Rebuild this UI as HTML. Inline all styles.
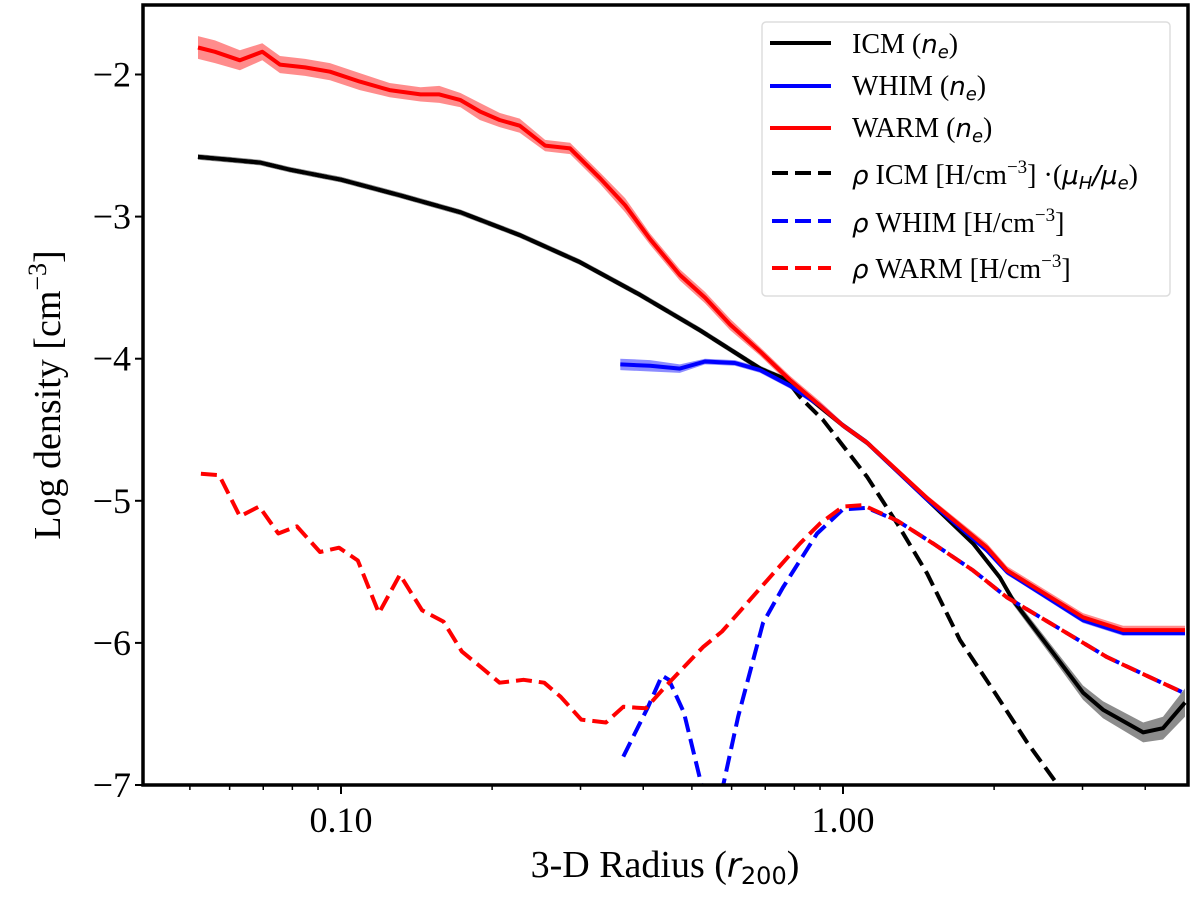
<!DOCTYPE html>
<html><head><meta charset="utf-8"><style>
html,body{margin:0;padding:0;background:#fff;}
svg text{font-family:"Liberation Serif",serif;}
</style></head><body>
<svg id="chart" width="1200" height="897" xmlns="http://www.w3.org/2000/svg">
<defs><clipPath id="clip"><rect x="143" y="5" width="1045" height="780"/></clipPath></defs>
<g id="plot" clip-path="url(#clip)"></g>
<g id="axes"></g>
</svg>
<script>
const icmR=[0.0519,0.0601,0.069,0.0791,0.1,0.131,0.173,0.227,0.299,0.394,0.519,0.684,0.773,1.0,1.116,1.470,1.815,2.054,2.181,2.620,3.006,3.296,3.963,4.34,4.80];
const icmV=[-2.58,-2.60,-2.62,-2.67,-2.74,-2.85,-2.97,-3.13,-3.32,-3.55,-3.80,-4.07,-4.15,-4.47,-4.59,-4.99,-5.30,-5.54,-5.70,-6.07,-6.35,-6.47,-6.63,-6.60,-6.42];
const icmErr=[0.02,0.02,0.02,0.02,0.02,0.02,0.02,0.02,0.02,0.02,0.02,0.02,0.02,0.02,0.02,0.02,0.02,0.02,0.03,0.04,0.05,0.06,0.07,0.08,0.1];
const icmRhoR=[0.0519,0.0601,0.069,0.0791,0.1,0.131,0.173,0.227,0.299,0.394,0.519,0.684,0.773,0.821,0.912,1.116,1.282,1.470,1.710,1.990,2.327,2.668,2.965];
const icmRhoV=[-2.58,-2.60,-2.62,-2.67,-2.74,-2.85,-2.97,-3.13,-3.32,-3.55,-3.80,-4.07,-4.15,-4.27,-4.43,-4.83,-5.16,-5.51,-5.98,-6.33,-6.70,-6.99,-7.25];
const warmR=[0.0519,0.0561,0.0629,0.0697,0.0756,0.0848,0.0951,0.109,0.125,0.144,0.157,0.173,0.189,0.207,0.227,0.255,0.286,0.328,0.368,0.413,0.473,0.531,0.596,0.684,0.784,0.900,1.0,1.116,1.470,1.936,2.122,3.006,3.614,4.80];
const warmV=[-1.81,-1.84,-1.90,-1.84,-1.93,-1.95,-1.98,-2.05,-2.11,-2.14,-2.14,-2.18,-2.26,-2.32,-2.36,-2.50,-2.52,-2.73,-2.92,-3.16,-3.41,-3.57,-3.76,-3.95,-4.15,-4.33,-4.47,-4.59,-4.98,-5.33,-5.49,-5.82,-5.91,-5.91];
const warmErr=[0.08,0.08,0.07,0.06,0.06,0.06,0.06,0.06,0.05,0.05,0.06,0.05,0.06,0.05,0.05,0.04,0.04,0.04,0.05,0.04,0.04,0.04,0.04,0.03,0.03,0.03,0.02,0.02,0.02,0.03,0.03,0.03,0.03,0.03];
const whimR=[0.360,0.413,0.473,0.531,0.609,0.684,0.784,0.900,1.0,1.116,1.470,1.936,2.122,3.006,3.614,4.80];
const whimV=[-4.04,-4.05,-4.07,-4.02,-4.03,-4.08,-4.19,-4.33,-4.47,-4.59,-4.99,-5.35,-5.50,-5.84,-5.93,-5.93];
const whimErr=[0.04,0.04,0.03,0.02,0.02,0.02,0.02,0.02,0.02,0.02,0.02,0.02,0.02,0.02,0.02,0.02];
const warmRhoR=[0.0526,0.0572,0.0629,0.0687,0.075,0.0817,0.0908,0.0991,0.108,0.119,0.131,0.145,0.160,0.174,0.190,0.207,0.231,0.254,0.274,0.301,0.337,0.365,0.405,0.442,0.482,0.526,0.574,0.626,0.706,0.821,0.900,1.0,1.096,1.282,1.511,1.815,2.122,2.584,3.357,3.908,4.76];
const warmRhoV=[-4.81,-4.82,-5.11,-5.04,-5.23,-5.18,-5.36,-5.33,-5.42,-5.79,-5.52,-5.77,-5.85,-6.06,-6.17,-6.28,-6.26,-6.28,-6.38,-6.54,-6.56,-6.45,-6.46,-6.31,-6.17,-6.03,-5.92,-5.77,-5.56,-5.30,-5.16,-5.04,-5.03,-5.14,-5.30,-5.49,-5.68,-5.86,-6.10,-6.21,-6.35];
const whimRhoR=[0.365,0.409,0.436,0.450,0.482,0.526,0.574,0.618,0.693,0.759,0.888,1.0,1.116,1.282,1.511,1.815,2.122,2.584,3.357,3.908,4.76];
const whimRhoV=[-6.80,-6.45,-6.23,-6.26,-6.49,-7.04,-7.04,-6.52,-5.86,-5.61,-5.23,-5.06,-5.05,-5.14,-5.30,-5.49,-5.68,-5.86,-6.10,-6.21,-6.35];
const yTicks=[-7,-6,-5,-4,-3,-2];
const xMajor=[0.1,1.0];
const xMajorLabels=["0.10","1.00"];
const xMinor=[0.05,0.06,0.07,0.08,0.09,0.2,0.3,0.4,0.5,0.6,0.7,0.8,0.9,2,3,4];

const L=143,R=1188,T=5,B=785;
const xs=r=>843+502*Math.log10(r);
const ys=v=>785-(v+7)*142.1;
const NS="http://www.w3.org/2000/svg";
const plot=document.getElementById('plot'),axes=document.getElementById('axes');
function mk(tag,attrs,parent){const e=document.createElementNS(NS,tag);for(const k in attrs)e.setAttribute(k,attrs[k]);parent.appendChild(e);return e;}
function lineD(rs,vs){return rs.map((r,i)=>(i?'L':'M')+xs(r).toFixed(1)+','+ys(vs[i]).toFixed(1)).join(' ');}
function bandD(rs,vs,es){let d=rs.map((r,i)=>(i?'L':'M')+xs(r).toFixed(1)+','+ys(vs[i]+es[i]).toFixed(1)).join(' ');
 for(let i=rs.length-1;i>=0;i--)d+='L'+xs(rs[i]).toFixed(1)+','+ys(vs[i]-es[i]).toFixed(1);return d+'Z';}

let b;
b=mk('path',{d:bandD(warmR,warmV,warmErr),fill:'#f00',opacity:0.45},plot);


b=mk('path',{d:bandD(whimR,whimV,whimErr),fill:'#00f',opacity:0.45},plot);


b=mk('path',{d:bandD(icmR,icmV,icmErr),fill:'#000',opacity:0.45},plot);



const series=[
 [icmRhoR,icmRhoV,'#000',true,'icm-rho-line'],
 [icmR,icmV,'#000',false,'icm-ne-line'],
 [whimR,whimV,'#00f',false,'whim-ne-line'],
 [warmR,warmV,'#f00',false,'warm-ne-line'],
 [whimRhoR,whimRhoV,'#00f',true,'whim-rho-line'],
 [warmRhoR,warmRhoV,'#f00',true,'warm-rho-line']];
series.forEach(s=>{
 const p=mk('path',{d:lineD(s[0],s[1]),fill:'none',stroke:s[2],'stroke-width':4,'stroke-linejoin':'round'},plot);
 if(s[3])p.setAttribute('stroke-dasharray','16 7');
 
 
});

yTicks.forEach(v=>{
 const y=ys(v);
 const t=mk('line',{x1:L-8,x2:L,y1:y,y2:y,stroke:'#000','stroke-width':2},axes);
 
 
 const tx=mk('text',{x:L-12,y:y+12,'text-anchor':'end','font-size':36},axes);
 tx.textContent='\u2212'+Math.abs(v);
 
 
});
xMajor.forEach((r,i)=>{
 const x=xs(r);
 const t=mk('line',{x1:x,x2:x,y1:B,y2:B+9,stroke:'#000','stroke-width':2},axes);
 
 
 const tx=mk('text',{x:x,y:B+47,'text-anchor':'middle','font-size':36},axes);
 tx.textContent=xMajorLabels[i];
 
 
});
xMinor.forEach(r=>{
 const x=xs(r);
 const t=mk('line',{x1:x,x2:x,y1:B,y2:B+5,stroke:'#000','stroke-width':1.5},axes);
 
 
});
let fr=mk('rect',{x:L,y:T,width:R-L,height:B-T,fill:'none',stroke:'#000','stroke-width':3.5},axes);


</script>
<svg style="position:absolute;left:0;top:0" width="1200" height="897" xmlns="http://www.w3.org/2000/svg">
<text x="665" y="877" text-anchor="middle" font-size="38" font-family="Liberation Serif, serif">3-D Radius (<tspan font-style="italic" font-family="DejaVu Sans, sans-serif" font-size="34">r</tspan><tspan font-family="DejaVu Sans, sans-serif" font-size="24" dy="7">200</tspan><tspan dy="-7">)</tspan></text>
<text transform="translate(60,395) rotate(-90)" text-anchor="middle" font-size="38" font-family="Liberation Serif, serif">Log density [cm<tspan font-size="26" dy="-14">−3</tspan><tspan dy="14">]</tspan></text>
<g font-family="Liberation Serif, serif" font-size="28">
<rect x="762" y="22" width="408" height="274" rx="4" fill="#fff" stroke="#ddd" stroke-width="1.5"/>
<g><line x1="770" x2="831" y1="43" y2="43" stroke="#000" stroke-width="4"/><text x="852" y="53">ICM (<tspan font-style="italic" font-family="DejaVu Sans, sans-serif" font-size="26">n</tspan><tspan font-style="italic" font-family="DejaVu Sans, sans-serif" font-size="18" dy="5">e</tspan><tspan dy="-5">)</tspan></text></g>
<g><line x1="770" x2="831" y1="86" y2="86" stroke="#00f" stroke-width="4"/><text x="852" y="95">WHIM (<tspan font-style="italic" font-family="DejaVu Sans, sans-serif" font-size="26">n</tspan><tspan font-style="italic" font-family="DejaVu Sans, sans-serif" font-size="18" dy="5">e</tspan><tspan dy="-5">)</tspan></text></g>
<g><line x1="770" x2="831" y1="128" y2="128" stroke="#f00" stroke-width="4"/><text x="852" y="137">WARM (<tspan font-style="italic" font-family="DejaVu Sans, sans-serif" font-size="26">n</tspan><tspan font-style="italic" font-family="DejaVu Sans, sans-serif" font-size="18" dy="5">e</tspan><tspan dy="-5">)</tspan></text></g>
<g><line x1="772" x2="831" y1="173" y2="173" stroke="#000" stroke-width="4" stroke-dasharray="16 7"/><text x="852" y="184"><tspan font-style="italic" font-family="DejaVu Sans, sans-serif" font-size="26">ρ</tspan> ICM [H/cm<tspan font-size="19" dy="-11">−3</tspan><tspan dy="11">] ·(</tspan><tspan font-style="italic" font-family="DejaVu Sans, sans-serif" font-size="26">μ</tspan><tspan font-style="italic" font-family="DejaVu Sans, sans-serif" font-size="18" dy="5">H</tspan><tspan dy="-5" font-family="DejaVu Sans, sans-serif" font-style="italic" font-size="26">/μ</tspan><tspan font-style="italic" font-family="DejaVu Sans, sans-serif" font-size="18" dy="5">e</tspan><tspan dy="-5">)</tspan></text></g>
<g><line x1="772" x2="831" y1="221" y2="221" stroke="#00f" stroke-width="4" stroke-dasharray="16 7"/><text x="852" y="232"><tspan font-style="italic" font-family="DejaVu Sans, sans-serif" font-size="26">ρ</tspan> WHIM [H/cm<tspan font-size="19" dy="-11">−3</tspan><tspan dy="11">]</tspan></text></g>
<g><line x1="772" x2="831" y1="268" y2="268" stroke="#f00" stroke-width="4" stroke-dasharray="16 7"/><text x="852" y="278"><tspan font-style="italic" font-family="DejaVu Sans, sans-serif" font-size="26">ρ</tspan> WARM [H/cm<tspan font-size="19" dy="-11">−3</tspan><tspan dy="11">]</tspan></text></g>
</g>
</svg>
</body></html>
